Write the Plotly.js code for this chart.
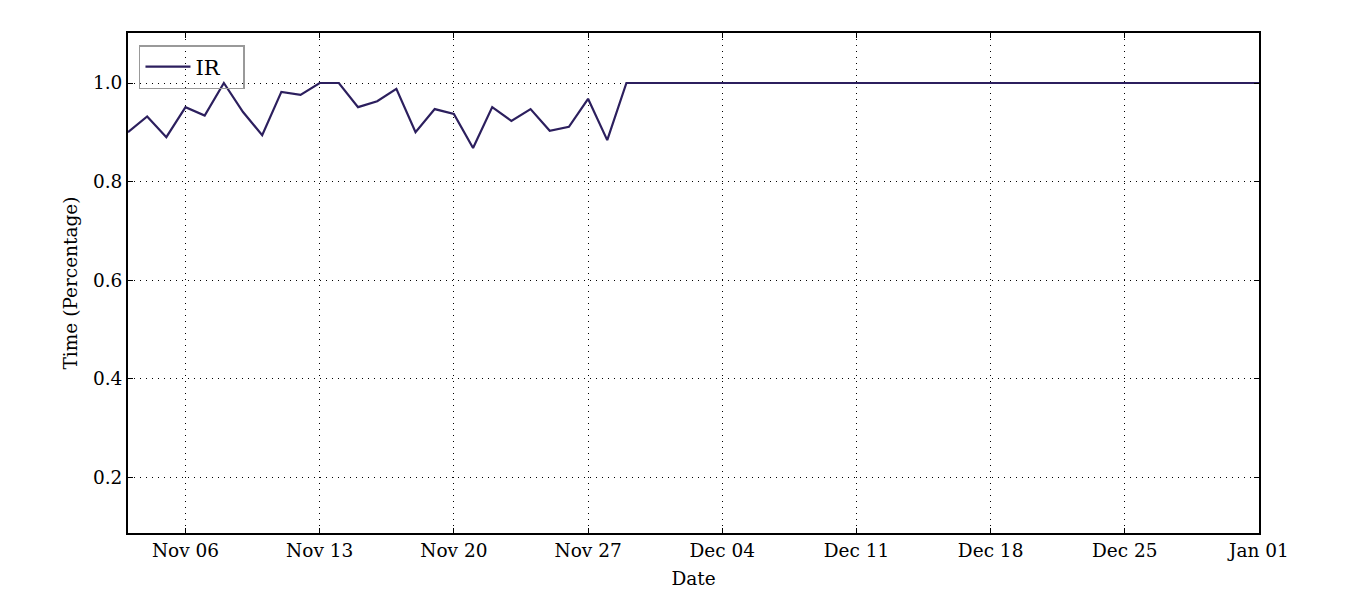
<!DOCTYPE html>
<html>
<head>
<meta charset="utf-8">
<script src="https://cdn.plot.ly/plotly-3.0.1.min.js"></script>
<style>html,body{margin:0;padding:0;background:#fff;}#chart{width:1350px;height:600px;}</style>
</head>
<body>
<div id="chart"></div>
<script>
const startDate = "2016-11-03";
const irValues = [
  0.900, 0.932, 0.890, 0.951, 0.934, 1.000, 0.941, 0.894, 0.982, 0.976,
  1.000, 1.000, 0.951, 0.963, 0.988, 0.900, 0.947, 0.937, 0.868, 0.951,
  0.923, 0.947, 0.903, 0.911, 0.968, 0.884, 1.000, 1.000, 1.000, 1.000,
  1.000, 1.000, 1.000, 1.000, 1.000, 1.000, 1.000, 1.000, 1.000, 1.000,
  1.000, 1.000, 1.000, 1.000, 1.000, 1.000, 1.000, 1.000, 1.000, 1.000,
  1.000, 1.000, 1.000, 1.000, 1.000, 1.000, 1.000, 1.000, 1.000, 1.000
];
const seriesName = "IR";
const xTitle = "Date";
const yTitle = "Time (Percentage)";

const dates = irValues.map((_, i) => {
  const d = new Date(startDate + "T00:00:00Z");
  d.setUTCDate(d.getUTCDate() + i);
  return d.toISOString().slice(0, 10);
});

const font = {family: "DejaVu Serif", size: 18.5, color: "#000"};

Plotly.newPlot("chart", [{
  x: dates, y: irValues, name: seriesName, type: "scatter", mode: "lines",
  line: {color: "#2c1f5e", width: 2.2}
}], {
  width: 1350, height: 600,
  margin: {l: 128, r: 91, t: 33, b: 67},
  paper_bgcolor: "#fff", plot_bgcolor: "#fff",
  font: font,
  showlegend: true,
  legend: {x: 0.0097, y: 0.976, xanchor: "left", yanchor: "top",
    orientation: "h",
    bgcolor: "rgba(0,0,0,0)", bordercolor: "#999", borderwidth: 1.5,
    itemwidth: 45, entrywidth: 43,
    font: {family: "DejaVu Serif", size: 21, color: "#000"}},
  xaxis: {
    type: "date", range: [dates[0], dates[dates.length - 1]],
    tick0: "2016-11-06", dtick: 7 * 86400000, tickformat: "%b %d",
    showgrid: true, gridcolor: "#000", griddash: "1px,5px", gridwidth: 1,
    showline: true, linecolor: "#000", linewidth: 2, mirror: "ticks",
    ticks: "inside", ticklen: 5, tickcolor: "#000", tickwidth: 1,
    zeroline: false, tickfont: font,
    title: {text: xTitle, font: font, standoff: 12}
  },
  yaxis: {
    range: [0.0864, 1.1015],
    tick0: 0.2, dtick: 0.2, tickformat: ".1f",
    showgrid: true, gridcolor: "#000", griddash: "1px,5px", gridwidth: 1,
    showline: true, linecolor: "#000", linewidth: 2, mirror: "ticks",
    ticks: "inside", ticklen: 5, tickcolor: "#000", tickwidth: 1,
    zeroline: false, tickfont: font,
    title: {text: yTitle, font: font, standoff: 10}
  }
}, {displayModeBar: false});
</script>
</body>
</html>
